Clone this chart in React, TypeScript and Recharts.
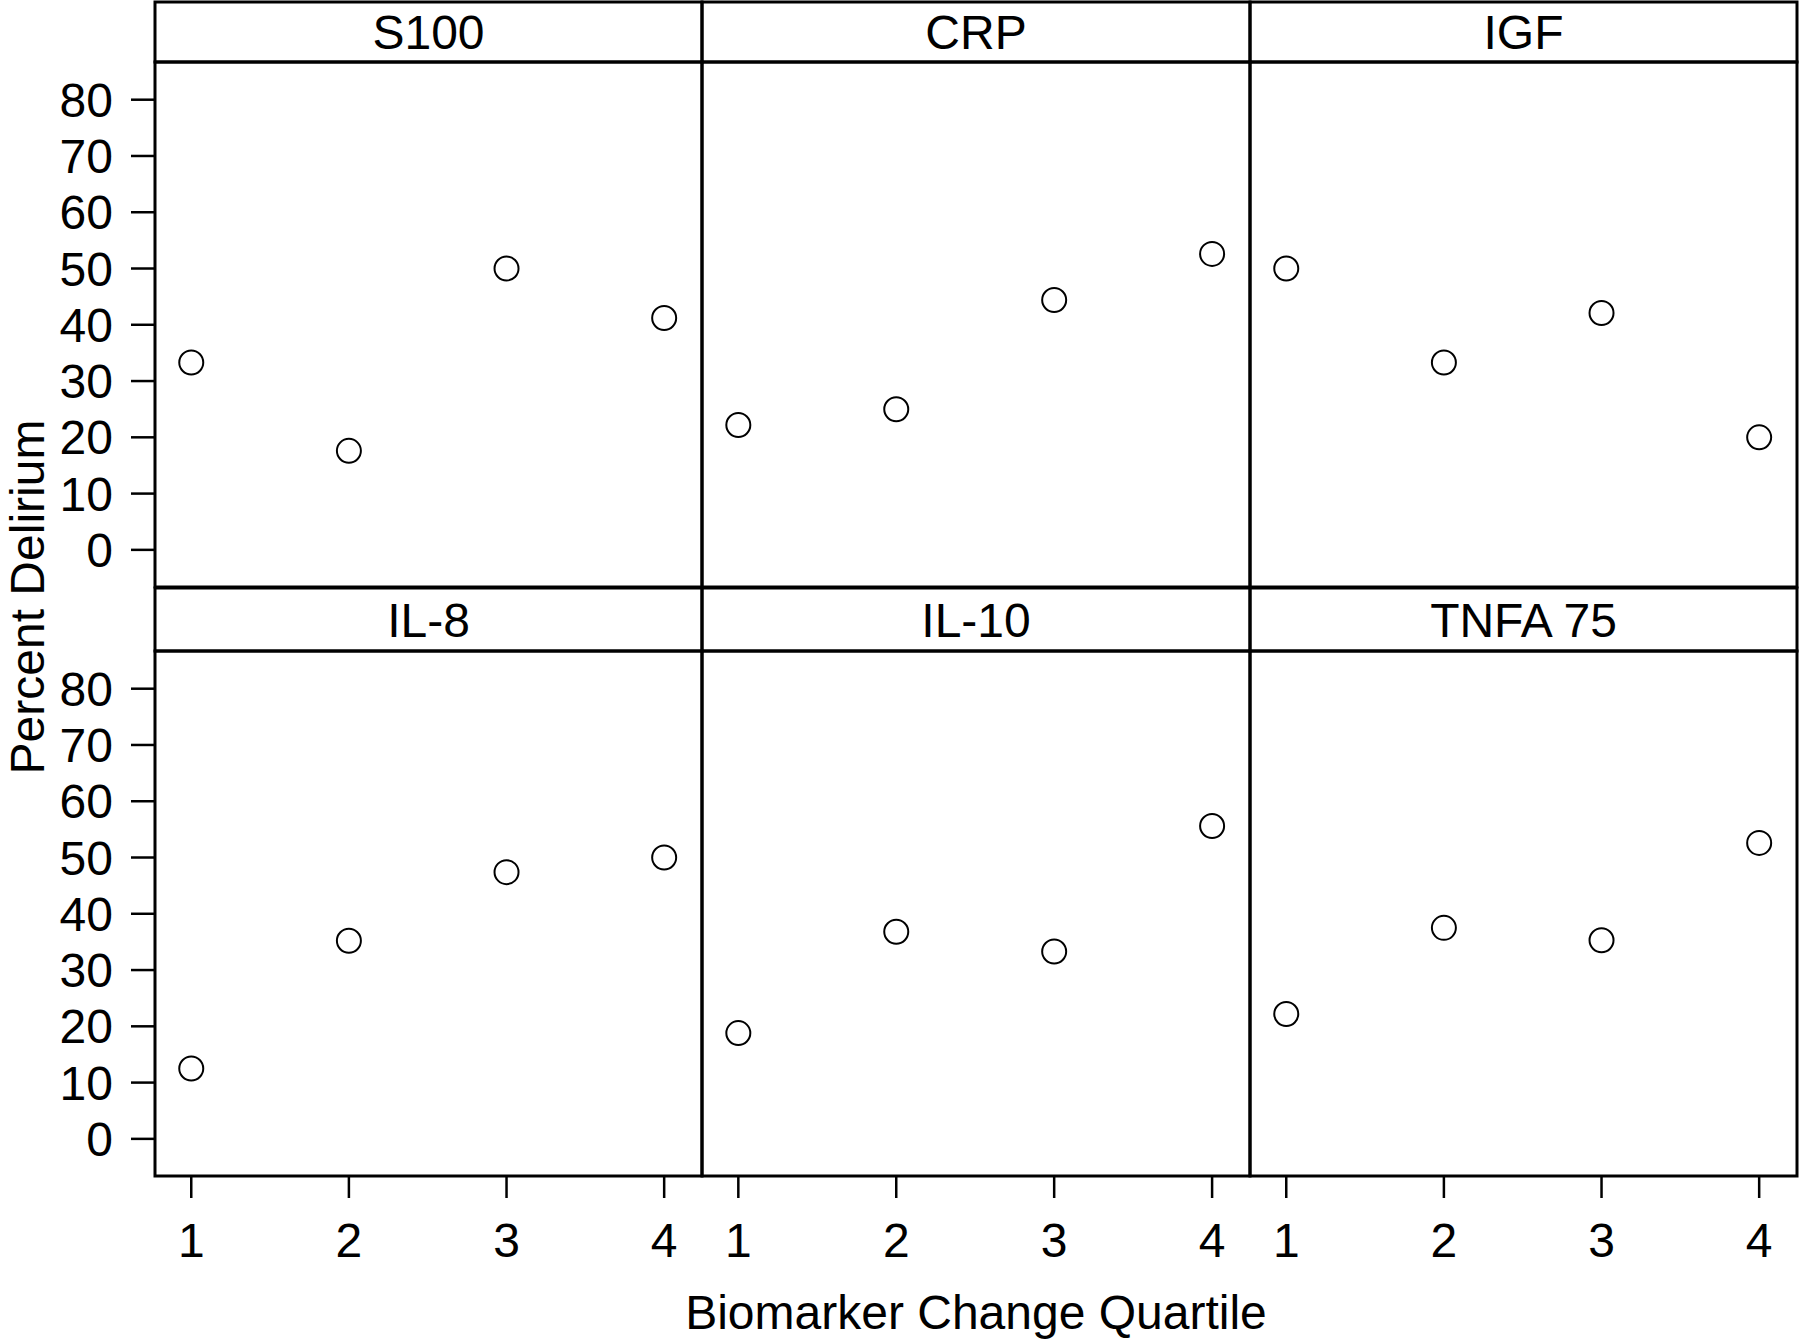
import { ScatterChart, Scatter, XAxis, YAxis } from "recharts";

// quartile categories and percent delirium per biomarker
const QUARTILES = [1, 2, 3, 4];
const Y_TICKS = [0, 10, 20, 30, 40, 50, 60, 70, 80];
const PANEL_NAMES = ["S100", "CRP", "IGF", "IL-8", "IL-10", "TNFA 75"];

const S100 = [33.3, 17.6, 50.0, 41.2];
const CRP = [22.2, 25.0, 44.4, 52.6];
const IGF = [50.0, 33.3, 42.1, 20.0];
const IL8 = [12.5, 35.2, 47.4, 50.0];
const IL10 = [18.8, 36.8, 33.3, 55.6];
const TNFA75 = [22.2, 37.5, 35.3, 52.6];

const PANEL_VALUES = [S100, CRP, IGF, IL8, IL10, TNFA75];

const FONT = "'Liberation Sans', Arial, Helvetica, sans-serif";
const FONT_SIZE = 48;

// layout of the trellis
const COL_EDGES = [155, 702, 1250, 1797];
const STRIP_TOP = [2, 588];
const PLOT_TOP = [62, 651];
const PLOT_H = 525;
const Y_AXIS_W = 115;
const X_AXIS_H = 100;

const X_DOMAIN: [number, number] = [0.77, 4.24];
const Y_DOMAIN: [number, number] = [-6.6, 86.7];

const Dot = (props: any) => {
  const { cx, cy } = props;
  if (cx == null || cy == null) return null;
  return <circle cx={cx} cy={cy} r={12} fill="none" stroke="#000" strokeWidth={2} />;
};

const Panel = ({ index }: { index: number }) => {
  const row = Math.floor(index / 3);
  const col = index % 3;
  const showY = col === 0;
  const showX = row === 1;
  const plotLeft = COL_EDGES[col];
  const plotW = COL_EDGES[col + 1] - COL_EDGES[col];
  const width = plotW + (showY ? Y_AXIS_W : 0);
  const height = PLOT_H + (showX ? X_AXIS_H : 0);
  const data = QUARTILES.map((q, i) => ({ q, pct: PANEL_VALUES[index][i] }));

  return (
    <div
      style={{
        position: "absolute",
        left: plotLeft - (showY ? Y_AXIS_W : 0),
        top: PLOT_TOP[row],
        width,
        height,
      }}
    >
      <ScatterChart width={width} height={height} margin={{ top: 0, right: 0, bottom: 0, left: 0 }}>
        <XAxis
          type="number"
          dataKey="q"
          domain={X_DOMAIN}
          ticks={QUARTILES}
          interval={0}
          allowDataOverflow
          hide={!showX}
          height={X_AXIS_H}
          axisLine={false}
          tickLine={{ stroke: "#000", strokeWidth: 2.5 }}
          tickSize={22}
          tickMargin={25}
          tick={{ fill: "#000", fontSize: FONT_SIZE, fontFamily: FONT }}
        />
        <YAxis
          type="number"
          dataKey="pct"
          domain={Y_DOMAIN}
          ticks={Y_TICKS}
          interval={0}
          allowDataOverflow
          hide={!showY}
          width={Y_AXIS_W}
          axisLine={false}
          tickLine={{ stroke: "#000", strokeWidth: 2.5 }}
          tickSize={24}
          tickMargin={18}
          tick={{ fill: "#000", fontSize: FONT_SIZE, fontFamily: FONT }}
        />
        <Scatter data={data} shape={<Dot />} isAnimationActive={false} />
      </ScatterChart>
    </div>
  );
};

const Frames = () => {
  const cols = [0, 1, 2];
  const rows = [0, 1];
  return (
    <svg
      width={1800}
      height={1341}
      style={{ position: "absolute", left: 0, top: 0, pointerEvents: "none" }}
      fontFamily={FONT}
      fontSize={FONT_SIZE}
    >
      {rows.map((r) =>
        cols.map((c) => {
          const x = COL_EDGES[c];
          const w = COL_EDGES[c + 1] - x;
          const stripH = PLOT_TOP[r] - STRIP_TOP[r];
          return (
            <g key={`${r}-${c}`}>
              <rect x={x} y={STRIP_TOP[r]} width={w} height={stripH} fill="none" stroke="#000" strokeWidth={3} />
              <rect x={x} y={PLOT_TOP[r]} width={w} height={PLOT_H} fill="none" stroke="#000" strokeWidth={3} />
              <text x={x + w / 2} y={STRIP_TOP[r] + stripH / 2 + 17} textAnchor="middle" fill="#000">
                {PANEL_NAMES[r * 3 + c]}
              </text>
            </g>
          );
        })
      )}
      <text x={44} y={597} transform="rotate(-90 44 597)" textAnchor="middle" fill="#000">
        Percent Delirium
      </text>
      <text x={976} y={1329} textAnchor="middle" fill="#000">
        Biomarker Change Quartile
      </text>
    </svg>
  );
};

export default function App() {
  return (
    <div style={{ position: "absolute", left: 0, top: 0, width: 1800, height: 1341, background: "#fff" }}>
      {PANEL_NAMES.map((_, i) => (
        <Panel key={i} index={i} />
      ))}
      <Frames />
    </div>
  );
}
